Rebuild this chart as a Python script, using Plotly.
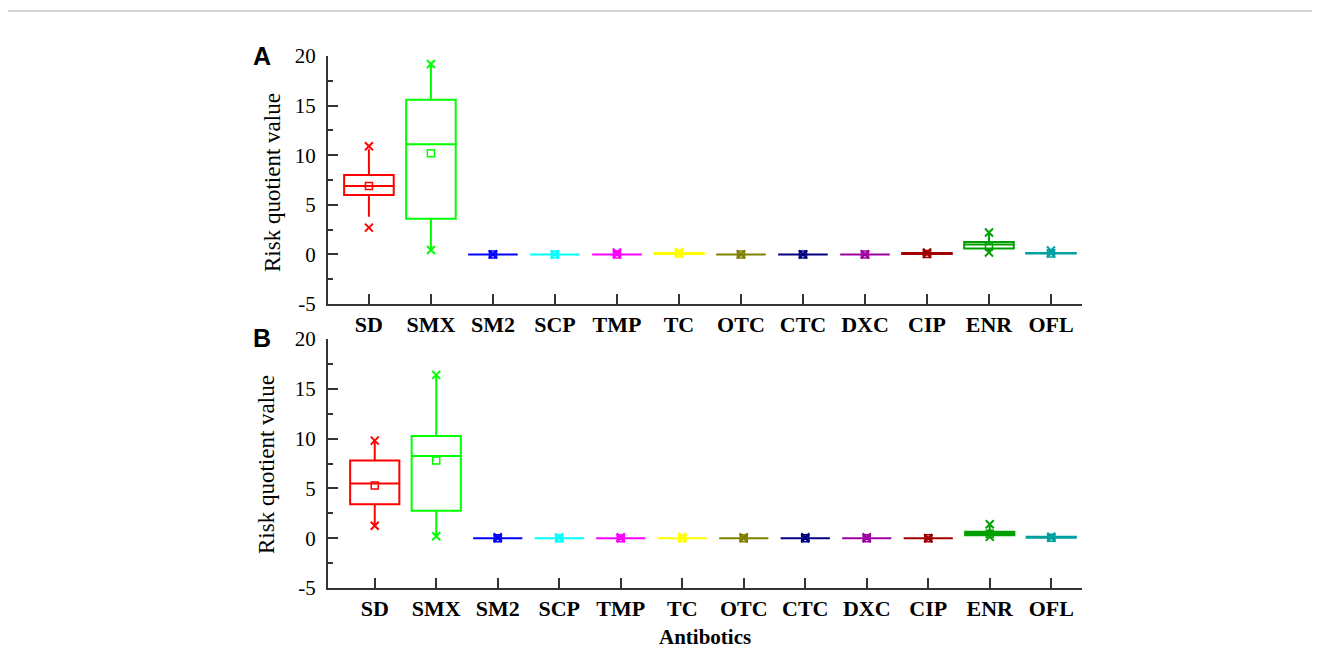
import plotly.graph_objects as go

categories = ["SD", "SMX", "SM2", "SCP", "TMP", "TC", "OTC", "CTC", "DXC", "CIP", "ENR", "OFL"]
colors = ["#FF0000", "#00FF00", "#0000FF", "#00FFFF", "#FF00FF", "#FFFF00",
          "#808000", "#000080", "#A000A0", "#A00000", "#00A000", "#00A0A0"]
ytick_vals = [-5, 0, 5, 10, 15, 20]
ytick_text = ["-5", "0", "5", "10", "15", "20"]

# Panel A
q1_a = [6.0, 3.6, 0.0, 0.0, 0.0, 0.05, 0.0, 0.0, 0.0, 0.05, 0.6, 0.1]
med_a = [6.9, 11.1, 0.0, 0.0, 0.0, 0.1, 0.0, 0.0, 0.0, 0.1, 1.0, 0.15]
q3_a = [8.0, 15.6, 0.0, 0.0, 0.0, 0.15, 0.0, 0.0, 0.0, 0.15, 1.25, 0.15]
lo_a = [3.8, 0.45, 0.0, 0.0, 0.0, 0.05, 0.0, 0.0, 0.0, 0.05, 0.2, 0.1]
hi_a = [10.6, 19.2, 0.0, 0.0, 0.0, 0.2, 0.0, 0.0, 0.0, 0.2, 2.2, 0.3]
mean_a = [6.9, 10.2, 0.0, 0.0, 0.0, 0.1, 0.0, 0.0, 0.0, 0.05, 0.8, 0.1]
min_a = [2.7, 0.45, 0.0, 0.0, 0.0, 0.05, 0.0, 0.0, 0.0, 0.05, 0.2, 0.1]
max_a = [10.9, 19.2, 0.0, 0.0, 0.2, 0.25, 0.0, 0.0, 0.0, 0.2, 2.2, 0.4]

# Panel B
q1_b = [3.4, 2.75, 0.0, 0.0, 0.0, 0.0, 0.0, 0.0, 0.0, 0.0, 0.3, 0.05]
med_b = [5.5, 8.25, 0.0, 0.0, 0.0, 0.0, 0.0, 0.0, 0.0, 0.0, 0.5, 0.1]
q3_b = [7.8, 10.25, 0.0, 0.0, 0.0, 0.0, 0.0, 0.0, 0.0, 0.0, 0.65, 0.15]
lo_b = [1.3, 0.2, 0.0, 0.0, 0.0, 0.0, 0.0, 0.0, 0.0, 0.0, 0.15, 0.05]
hi_b = [9.8, 16.4, 0.0, 0.0, 0.0, 0.0, 0.0, 0.0, 0.0, 0.0, 1.3, 0.15]
mean_b = [5.3, 7.8, 0.0, 0.0, 0.0, 0.0, 0.0, 0.0, 0.0, 0.0, 0.45, 0.05]
min_b = [1.25, 0.2, 0.0, 0.0, 0.0, 0.0, 0.0, 0.0, 0.0, 0.0, 0.15, 0.05]
max_b = [9.8, 16.4, 0.1, 0.1, 0.1, 0.15, 0.1, 0.1, 0.1, 0.0, 1.4, 0.15]

SERIF = "Liberation Serif"

fig = go.Figure()

def add_panel(q1, med, q3, lo, hi, mean, mn, mx, xa, ya):
    for i, c in enumerate(categories):
        col = colors[i]
        fig.add_trace(go.Box(
            x=[c], q1=[q1[i]], median=[med[i]], q3=[q3[i]],
            lowerfence=[lo[i]], upperfence=[hi[i]],
            width=0.8, whiskerwidth=0, boxpoints=False,
            fillcolor="rgba(0,0,0,0)", line=dict(color=col, width=2),
            xaxis=xa, yaxis=ya, showlegend=False, hoverinfo="skip"))
        fig.add_trace(go.Scatter(
            x=[c], y=[mean[i]], mode="markers",
            marker=dict(symbol="square-open", size=7, color=col, line=dict(width=1.5, color=col)),
            xaxis=xa, yaxis=ya, showlegend=False, hoverinfo="skip"))
        fig.add_trace(go.Scatter(
            x=[c, c], y=[mn[i], mx[i]], mode="markers",
            marker=dict(symbol="x-thin-open", size=8, color=col, line=dict(width=2, color=col)),
            xaxis=xa, yaxis=ya, showlegend=False, hoverinfo="skip"))

add_panel(q1_a, med_a, q3_a, lo_a, hi_a, mean_a, min_a, max_a, "x", "y")
add_panel(q1_b, med_b, q3_b, lo_b, hi_b, mean_b, min_b, max_b, "x2", "y2")

# page body has an 8px margin; work in screen pixels and convert
OFF = 8
W, H = 1320 - OFF, 648 - OFF

def px(x):
    return (x - OFF) / W

def py(y):
    return 1 - (y - OFF) / H

xdom = [px(328), px(1082)]

def yaxis_cfg(top, bottom, anchor):
    return dict(domain=[py(bottom), py(top)], anchor=anchor, range=[-5, 20],
                tickvals=ytick_vals, ticktext=ytick_text, ticks="inside", ticklen=10, tickwidth=1.5,
                tickcolor="#333", showline=True, linecolor="#333", linewidth=2,
                minor=dict(dtick=2.5, tick0=0, ticks="inside", ticklen=5, tickwidth=1.5, tickcolor="#333"),
                showgrid=False, zeroline=False, automargin=False, ticklabelstandoff=6,
                tickfont=dict(family=SERIF, size=21, color="black"))

def xaxis_cfg(rng, anchor):
    return dict(domain=xdom, anchor=anchor, type="category", categoryorder="array",
                categoryarray=categories, range=rng, ticks="inside", ticklen=10, tickwidth=1.5,
                tickcolor="#333", showline=True, linecolor="#333", linewidth=2,
                showgrid=False, zeroline=False, automargin=False,
                tickfont=dict(family=SERIF, size=22, color="black", weight="bold"))

fig.update_layout(
    width=W, height=H, margin=dict(l=0, r=0, t=0, b=0),
    plot_bgcolor="white", paper_bgcolor="white", showlegend=False,
    xaxis=xaxis_cfg([-0.66, 11.5], "y"),
    yaxis=yaxis_cfg(56, 304, "x"),
    xaxis2=xaxis_cfg([-0.76, 11.5], "y2"),
    yaxis2=yaxis_cfg(339, 588, "x2"),
)

def ann(text, x, y, font, angle=0):
    return dict(text=text, x=px(x), y=py(y), xref="paper", yref="paper", showarrow=False,
                xanchor="center", yanchor="middle", textangle=angle, font=font)

annotations = [
    ann("A", 262, 56, dict(family="Liberation Sans", size=25, color="black", weight="bold")),
    ann("B", 262, 338, dict(family="Liberation Sans", size=25, color="black", weight="bold")),
    ann("Risk quotient value", 272, 183, dict(family=SERIF, size=23, color="black"), -90),
    ann("Risk quotient value", 266, 465, dict(family=SERIF, size=23, color="black"), -90),
    ann("Antibotics", 705, 637, dict(family=SERIF, size=21, color="black", weight="bold")),
]
fig.update_layout(annotations=annotations)

fig.add_shape(type="rect", xref="paper", yref="paper", x0=px(6), x1=1.02, y0=-0.05, y1=py(11),
              line=dict(color="#c8c8c8", width=1.5), fillcolor="rgba(0,0,0,0)", layer="below")

fig.write_html("out.html")
